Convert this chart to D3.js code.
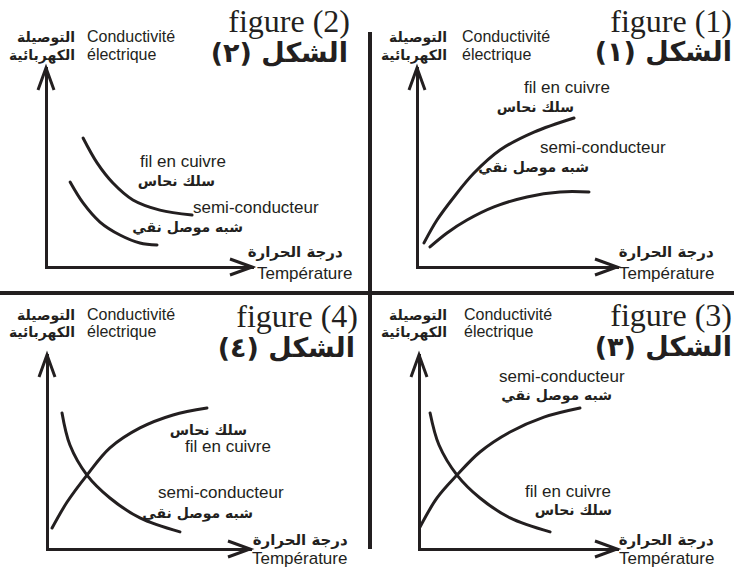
<!DOCTYPE html>
<html>
<head>
<meta charset="utf-8">
<script src="https://cdn.jsdelivr.net/npm/d3@7"></script>
<style>
  html, body { margin: 0; padding: 0; background: #fff; overflow: hidden; }
  svg { display: block; }
  .fr { font-family: "Liberation Sans", Arial, sans-serif; fill: #231f20; }
  .ar { font-family: "DejaVu Sans", sans-serif; font-weight: bold; fill: #231f20; }
  .ttl { font-family: "Liberation Serif", "Times New Roman", serif; fill: #231f20; }
</style>
</head>
<body>
<svg id="chart" width="734" height="568"></svg>
<script>
// ---------- data (arbitrary units 0..10) ----------
const xDomain = [0, 10];   // température
const yDomain = [0, 10];   // conductivité électrique

// figure (1): both increase
const fig1Cuivre = [[0.35,1.21],[1.0,2.36],[1.85,3.52],[2.85,4.72],[4.15,5.88],[5.85,6.78],[7.85,7.49]];
const fig1Semi   = [[0.65,1.01],[1.5,1.71],[2.5,2.36],[3.85,3.02],[5.5,3.52],[7.15,3.77],[8.6,3.77]];
// figure (2): both decrease
const fig2Cuivre = [[1.80,6.48],[2.48,5.23],[3.25,4.22],[4.22,3.37],[5.53,2.86],[7.09,2.61]];
const fig2Semi   = [[1.17,4.27],[1.80,3.22],[2.62,2.26],[3.59,1.61],[4.56,1.21],[5.39,1.11]];
// figure (3): semi-conducteur increases, cuivre decreases
const fig3Semi   = [[0.05,1.13],[0.91,2.63],[1.92,3.81],[3.08,5.0],[4.60,6.03],[6.31,6.80],[8.13,7.27]];
const fig3Cuivre = [[0.56,7.01],[1.01,5.36],[1.92,3.81],[3.08,2.63],[4.60,1.60],[6.62,0.88]];
// figure (4): cuivre increases, semi-conducteur decreases
const fig4Cuivre = [[0.25,1.08],[0.99,2.42],[1.97,3.81],[3.10,5.21],[4.58,6.24],[6.21,6.91],[7.88,7.27]];
const fig4Semi   = [[0.74,7.01],[1.13,5.36],[1.97,3.81],[3.10,2.63],[4.58,1.60],[6.55,0.88]];

// ---------- texts ----------
const figureTitles   = ["figure (1)", "figure (2)", "figure (3)", "figure (4)"];
const figureTitlesAr = ["الشكل (١)", "الشكل (٢)", "الشكل (٣)", "الشكل (٤)"];
const yTitleFr = ["Conductivité", "électrique"];
const yTitleAr = ["التوصيلة", "الكهربائية"];
const xTitleFr = "Température";
const xTitleAr = "درجة الحرارة";
const cuivreFr = "fil en cuivre";
const cuivreAr = "سلك نحاس";
const semiFr   = "semi-conducteur";
const semiAr   = "شبه موصل نقي";

// ---------- layout (positions only) ----------
const panels = [
  { idx:0, series:[fig1Cuivre, fig1Semi], ox:417, oy:267, tx:617, ty:68,
    title:[732,32], titleAr:[732,61], yLab:{fr:462, ar:447, y1:42, y2:60},
    xLab:{fr:619, ar:714, yAr:257, yFr:279},
    labels:[ {t:cuivreFr, x:524, y:93, ar:false}, {t:cuivreAr, x:574, y:112, ar:true},
             {t:semiFr, x:540, y:153, ar:false}, {t:semiAr, x:589, y:172, ar:true} ] },
  { idx:1, series:[fig2Cuivre, fig2Semi], ox:46, oy:267, tx:252, ty:68,
    title:[350,32], titleAr:[348,62], yLab:{fr:87, ar:75, y1:42, y2:60},
    xLab:{fr:257, ar:343, yAr:257, yFr:279},
    labels:[ {t:cuivreFr, x:140, y:167, ar:false}, {t:cuivreAr, x:215, y:186, ar:true},
             {t:semiFr, x:193, y:213, ar:false}, {t:semiAr, x:243, y:232, ar:true} ] },
  { idx:2, series:[fig3Semi, fig3Cuivre], ox:419, oy:549, tx:617, ty:355,
    title:[732,326], titleAr:[732,356], yLab:{fr:464, ar:447, y1:320, y2:337},
    xLab:{fr:619, ar:714, yAr:545, yFr:564},
    labels:[ {t:semiFr, x:499, y:382, ar:false}, {t:semiAr, x:612, y:400, ar:true},
             {t:cuivreFr, x:525, y:497, ar:false}, {t:cuivreAr, x:612, y:515, ar:true} ] },
  { idx:3, series:[fig4Cuivre, fig4Semi], ox:47, oy:549, tx:250, ty:355,
    title:[358,327], titleAr:[355,357], yLab:{fr:87, ar:75, y1:320, y2:337},
    xLab:{fr:252, ar:348, yAr:545, yFr:564},
    labels:[ {t:cuivreAr, x:247, y:435, ar:true}, {t:cuivreFr, x:185, y:452, ar:false},
             {t:semiFr, x:158, y:498, ar:false}, {t:semiAr, x:253, y:518, ar:true} ] }
];

const ink = "#231f20";
const svg = d3.select("#chart");

// right-align an RTL text so that its drawn right edge sits at xr
function arText(sel, str, xr, y, size) {
  const t = sel.append("text").attr("class", "ar").attr("direction", "rtl")
    .attr("text-anchor", "start").attr("x", xr).attr("y", y).attr("font-size", size).text(str);
  const bb = t.node().getBBox();
  t.attr("x", xr + (xr - (bb.x + bb.width)));
  return t;
}

// divider cross
svg.append("line").attr("x1", 370).attr("x2", 370).attr("y1", 32).attr("y2", 549)
   .attr("stroke", ink).attr("stroke-width", 4);
svg.append("line").attr("x1", 0).attr("x2", 734).attr("y1", 293).attr("y2", 293)
   .attr("stroke", ink).attr("stroke-width", 4);

panels.forEach(p => {
  const g = svg.append("g");
  const x = d3.scaleLinear().domain(xDomain).range([p.ox, p.tx]);
  const y = d3.scaleLinear().domain(yDomain).range([p.oy, p.ty]);

  // axes (no ticks), thick domain lines
  const xa = g.append("g").attr("transform", `translate(0,${p.oy})`)
    .call(d3.axisBottom(x).ticks(0).tickSize(0).tickSizeOuter(0));
  const ya = g.append("g").attr("transform", `translate(${p.ox},0)`)
    .call(d3.axisLeft(y).ticks(0).tickSize(0).tickSizeOuter(0));
  [xa, ya].forEach(a => a.select(".domain").attr("stroke", ink).attr("stroke-width", 3)
      .attr("stroke-linecap", "square"));

  // open chevron arrowheads
  const xt = x(xDomain[1]), yt = y(yDomain[1]);
  g.append("path").attr("d", `M${xt-22},${p.oy-8}L${xt},${p.oy}L${xt-22},${p.oy+8}`)
    .attr("fill", "none").attr("stroke", ink).attr("stroke-width", 3);
  g.append("path").attr("d", `M${p.ox-8},${yt+22}L${p.ox},${yt}L${p.ox+8},${yt+22}`)
    .attr("fill", "none").attr("stroke", ink).attr("stroke-width", 3);

  // curves
  const line = d3.line().x(d => x(d[0])).y(d => y(d[1])).curve(d3.curveCatmullRom.alpha(0.5));
  p.series.forEach(s => {
    g.append("path").datum(s).attr("d", line)
      .attr("fill", "none").attr("stroke", ink).attr("stroke-width", 3).attr("stroke-linecap", "round");
  });

  // titles
  g.append("text").attr("class", "ttl").attr("x", p.title[0]).attr("y", p.title[1])
    .attr("text-anchor", "end").attr("font-size", 32).text(figureTitles[p.idx]);
  arText(g, figureTitlesAr[p.idx], p.titleAr[0], p.titleAr[1], 27);

  // y-axis title
  g.append("text").attr("class", "fr").attr("x", p.yLab.fr).attr("y", p.yLab.y1).attr("font-size", 16).text(yTitleFr[0]);
  g.append("text").attr("class", "fr").attr("x", p.yLab.fr).attr("y", p.yLab.y2).attr("font-size", 16).text(yTitleFr[1]);
  arText(g, yTitleAr[0], p.yLab.ar, p.yLab.y1, 14);
  arText(g, yTitleAr[1], p.yLab.ar, p.yLab.y2, 14);

  // x-axis title
  arText(g, xTitleAr, p.xLab.ar, p.xLab.yAr, 15);
  g.append("text").attr("class", "fr").attr("x", p.xLab.fr).attr("y", p.xLab.yFr).attr("font-size", 17).text(xTitleFr);

  // curve labels
  p.labels.forEach(l => {
    if (l.ar) arText(g, l.t, l.x, l.y, 14);
    else g.append("text").attr("class", "fr").attr("x", l.x).attr("y", l.y).attr("font-size", 17).text(l.t);
  });
});
</script>
</body>
</html>
